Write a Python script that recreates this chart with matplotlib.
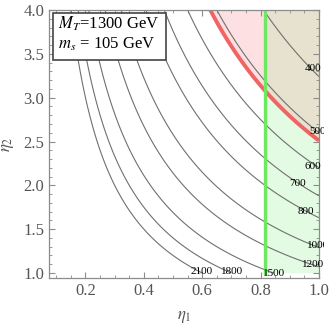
import numpy as np
import matplotlib
matplotlib.use("Agg")
from matplotlib import pyplot as plt
from matplotlib.patches import Rectangle
from matplotlib.transforms import Bbox, TransformedBbox

# contour levels (GeV) and the eta1*eta2 value each labelled curve sits on
mass_levels = [400, 500, 600, 700, 800, 1000, 1200, 1500, 1800, 2100]
level_products = [3.24, 2.60, 2.20, 1.88, 1.63, 1.29, 1.07, 0.845, 0.70, 0.60]
# red bound (eta1*eta2) and green bound (eta1)
red_product = 2.51
green_eta1 = 0.815
eta1_range = (0.075, 1.0)
eta2_range = (1.0, 4.0)
box_lines = [r"$M_T$=1300 GeV", r"$m_s$ = 105 GeV"]

# where Mathematica put the contour labels
label_pos = [(0.979, 3.33), (0.994, 2.61), (0.979, 2.21), (0.925, 2.02), (0.955, 1.70),
             (0.997, 1.31), (0.979, 1.10), (0.846, 0.995), (0.702, 1.015), (0.599, 1.015)]

plt.rcParams['font.family'] = ['Liberation Serif', 'DejaVu Serif']
plt.rcParams['mathtext.fontset'] = 'stix'

fig = plt.figure(figsize=(3.32, 3.26), dpi=100)
ax = fig.add_axes([49 / 332, 48 / 326, 270 / 332, 268 / 326])

e1 = np.linspace(eta1_range[0], eta1_range[1], 900)
e2 = np.linspace(eta2_range[0], eta2_range[1], 900)
E1, E2 = np.meshgrid(e1, e2)
P = E1 * E2

# shaded regions: 1 = red only, 2 = green only, 3 = both
region = (P >= red_product).astype(float) + 2 * (E1 >= green_eta1)
ax.contourf(E1, E2, region, levels=[0.5, 1.5, 2.5, 3.5],
            colors=['#fde0e2', '#e2fbe2', '#e6e2cf'], antialiased=True)

order = np.argsort(level_products)
ax.contour(E1, E2, P, levels=np.array(level_products)[order],
           colors='#707070', linewidths=0.8)
ax.contour(E1, E2, P, levels=[red_product], colors='#f06464', linewidths=2.8)
ax.plot([green_eta1, green_eta1], eta2_range, color='#6ee860', lw=2.4)

# labels may poke a little past the right spine, like in the original
clip = TransformedBbox(Bbox([[0, 0], [1.02, 1]]), ax.transAxes)
for m, (x, y) in zip(mass_levels, label_pos):
    t = ax.text(x, y, str(m), fontsize=8, ha='center', va='center')
    t.set_clip_box(clip)
    t.set_clip_on(True)

ax.set_xlim(eta1_range[0], eta1_range[1])
ax.set_ylim(0.943, eta2_range[1])
ax.set_xticks([0.2, 0.4, 0.6, 0.8, 1.0])
ax.set_yticks([1.0, 1.5, 2.0, 2.5, 3.0, 3.5, 4.0])
ax.set_xticks(np.arange(0.1, 1.0, 0.05), minor=True)
ax.set_yticks(np.arange(1.0, 4.0, 0.1), minor=True)
ax.tick_params(which='both', direction='in', top=True, right=True, color='#8c8c8c',
               labelcolor='#555555', labelsize=12)
ax.tick_params(which='major', length=4, width=0.8)
ax.tick_params(which='minor', length=2, width=0.6)
for s in ax.spines.values():
    s.set_color('#8c8c8c')
    s.set_linewidth(0.9)

ax.set_xlabel(r"$\eta_1$", fontsize=12, color='#555555', labelpad=7)
ax.set_ylabel(r"$\eta_2$", fontsize=12, color='#555555', labelpad=5)

ax.add_patch(Rectangle((0.015, 0.813), 0.418, 0.176, transform=ax.transAxes,
                       facecolor='white', edgecolor='#444444', lw=1.2, zorder=5))
ax.text(0.032, 0.950, box_lines[0], transform=ax.transAxes, fontsize=12,
        va='center', zorder=6)
ax.text(0.032, 0.872, box_lines[1], transform=ax.transAxes, fontsize=12,
        va='center', zorder=6)

fig.savefig('out.png', dpi=100)
